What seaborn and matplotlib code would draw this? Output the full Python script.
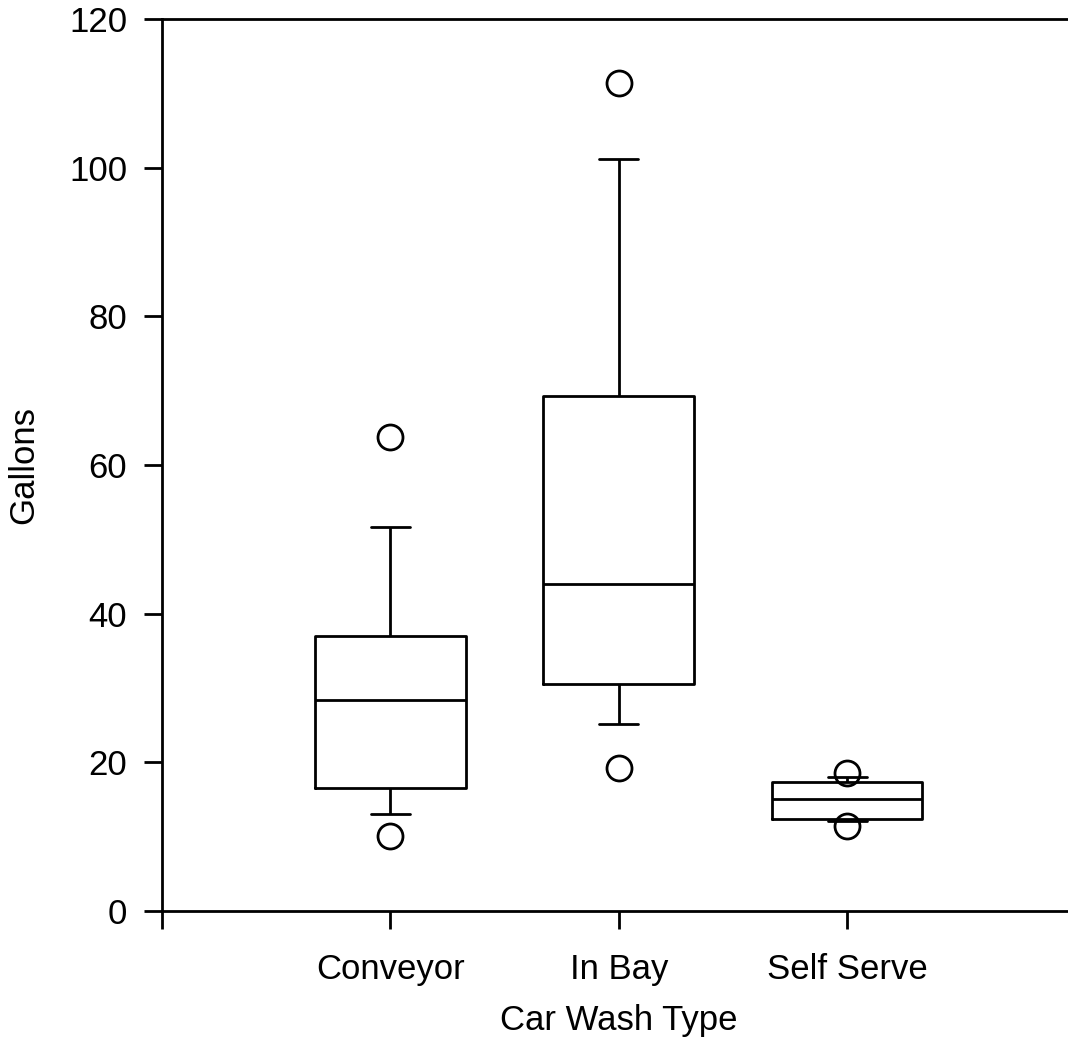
import matplotlib
matplotlib.use("Agg")
import matplotlib.pyplot as plt
import pandas as pd
import seaborn as sns

types = ["Conveyor", "In Bay", "Self Serve"]
# low outlier, lower whisker, q1, median, q3, upper whisker, high outlier
conveyor = [10.1, 13.0, 16.5, 28.4, 37.0, 51.6, 63.7]
in_bay = [19.2, 25.1, 30.5, 44.0, 69.3, 101.1, 111.4]
self_serve = [11.4, 12.1, 12.4, 15.1, 17.4, 18.0, 18.6]
y_ticks = [0, 20, 40, 60, 80, 100, 120]


def expand(v):
    # 9 points so the 12.5/25/50/75/87.5 percentiles land exactly on the read values
    lo, wlo, q1, med, q3, whi, hi = v
    return [lo, wlo, q1, med, med, med, q3, whi, hi]


rows = []
for name, vals in zip(types, [conveyor, in_bay, self_serve]):
    for g in expand(vals):
        rows.append({"Car Wash Type": name, "Gallons": g})
df = pd.DataFrame(rows)

sns.set_style("ticks")
plt.rcParams["font.family"] = ["Liberation Sans", "DejaVu Sans"]
plt.rcParams["text.color"] = "black"
plt.rcParams["axes.labelcolor"] = "black"

fig = plt.figure(figsize=(10.68, 10.47), dpi=100)
ax = fig.add_axes([162 / 1068, 1 - 911 / 1047, (1075.5 - 162) / 1068, (911 - 19) / 1047])

lw = 2
sns.boxplot(
    data=df, x="Car Wash Type", y="Gallons", order=types,
    whis=(12.5, 87.5), width=0.66, fill=False, color="black",
    linewidth=lw, capwidths=0.17,
    flierprops=dict(marker="o", markersize=18, markeredgewidth=lw,
                    markerfacecolor="none", markeredgecolor="black"),
    ax=ax,
)

ax.set_xlim(-1, 3)
ax.set_ylim(0, 120)
ax.set_yticks(y_ticks)
ax.set_xticks([-1, 0, 1, 2, 3], [""] + types + [""])
for s in ax.spines.values():
    s.set_linewidth(lw)
    s.set_color("black")
ax.tick_params(axis="both", direction="out", length=13, width=lw,
               colors="black", labelsize=25)
ax.tick_params(axis="y", pad=12)
ax.tick_params(axis="x", pad=17)
ax.set_xlabel("Car Wash Type", fontsize=25, labelpad=13)
ax.set_ylabel("Gallons", fontsize=25, labelpad=21)

fig.savefig("out.png", dpi=100)
